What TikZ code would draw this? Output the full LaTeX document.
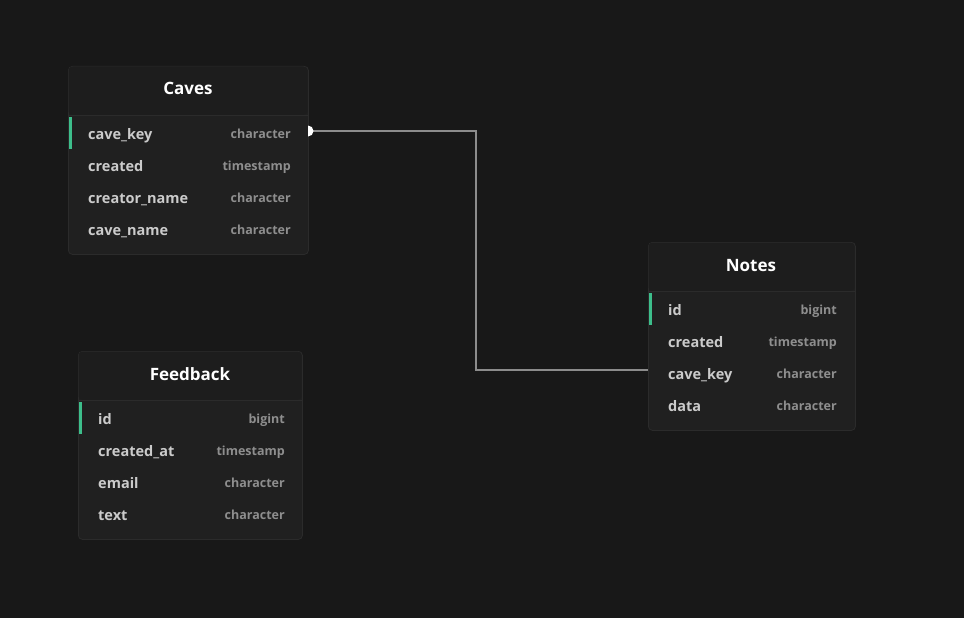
\documentclass[tikz,border=0pt]{standalone}
\usepackage{fontspec}
\setmainfont{Open Sans}
\definecolor{bg}{HTML}{181818}
\definecolor{card}{HTML}{202020}
\definecolor{cardhead}{HTML}{1D1D1D}
\definecolor{cardline}{HTML}{2B2B2B}
\definecolor{fieldc}{HTML}{CBCBCB}
\definecolor{typec}{HTML}{8E8E8E}
\definecolor{keyc}{HTML}{3DBE8B}
\definecolor{linkc}{HTML}{8C8C8C}
\tikzset{
  card/.style={draw=cardline, line width=0.8pt, fill=card, rounded corners=4pt, inner sep=0pt, anchor=north west},
  ttl/.style={text=white, font=\fontsize{17}{19}\selectfont\bfseries, anchor=base, inner sep=0pt},
  fld/.style={text=fieldc, font=\fontsize{14.5}{16}\selectfont\bfseries, anchor=base west, inner sep=0pt},
  typ/.style={text=typec, font=\fontsize{12.5}{14}\selectfont\bfseries, anchor=base east, inner sep=0pt},
  keybar/.style={fill=keyc, draw=none},
  sep/.style={draw=cardline, line width=0.8pt},
  link/.style={draw=linkc, line width=2.6pt, line join=miter},
}
\begin{document}
\begin{tikzpicture}[x=1pt,y=-1pt]
\fill[bg] (0,0) rectangle (964,618);
\useasboundingbox (0,0) rectangle (964,618);

% ---------- Caves ----------
\node[card, minimum width=240pt, minimum height=188pt] (caves) at (68,66) {};
\fill[cardhead, rounded corners=4pt] (68.5,66.5) rectangle (307.5,115);
\draw[sep] (68,115) -- (308,115);
\node[ttl] (cavest) at (188,95) {Caves};
\fill[keybar] (69,117) rectangle (72,149);
\node[fld] (c1) at (88,139) {cave\_key};
\node[typ] (c1t) at (291,138) {character};
\node[fld] (c2) at (88,171) {created};
\node[typ] (c2t) at (291,170) {timestamp};
\node[fld] (c3) at (88,203) {creator\_name};
\node[typ] (c3t) at (291,202) {character};
\node[fld] (c4) at (88,235) {cave\_name};
\node[typ] (c4t) at (291,234) {character};

% ---------- Notes ----------
\node[card, minimum width=207pt, minimum height=188pt] (notes) at (648,242) {};
\fill[cardhead, rounded corners=4pt] (648.5,242.5) rectangle (854.5,291);
\draw[sep] (648,291) -- (855,291);
\node[ttl] (notest) at (751,271) {Notes};
\fill[keybar] (649,293) rectangle (652,325);
\node[fld] (n1) at (668,315) {id};
\node[typ] (n1t) at (837,314) {bigint};
\node[fld] (n2) at (668,347) {created};
\node[typ] (n2t) at (837,346) {timestamp};
\node[fld] (n3) at (668,379) {cave\_key};
\node[typ] (n3t) at (837,378) {character};
\node[fld] (n4) at (668,411) {data};
\node[typ] (n4t) at (837,410) {character};

% ---------- Feedback ----------
\node[card, minimum width=224pt, minimum height=188pt] (fb) at (78,351) {};
\fill[cardhead, rounded corners=4pt] (78.5,351.5) rectangle (301.5,400);
\draw[sep] (78,400) -- (302,400);
\node[ttl] (fbt) at (190,380) {Feedback};
\fill[keybar] (79,402) rectangle (82,434);
\node[fld] (f1) at (98,424) {id};
\node[typ] (f1t) at (285,423) {bigint};
\node[fld] (f2) at (98,456) {created\_at};
\node[typ] (f2t) at (285,455) {timestamp};
\node[fld] (f3) at (98,488) {email};
\node[typ] (f3t) at (285,487) {character};
\node[fld] (f4) at (98,520) {text};
\node[typ] (f4t) at (285,519) {character};

% ---------- connector ----------
\coordinate (src) at (308,131);
\coordinate (dst) at (648,370);
\draw[link] (src) -- (476,131) -- (476,370) -- (dst);
\begin{scope}
  \clip (308,120) rectangle (320,142);
  \fill[white] (src) circle[radius=5.5];
\end{scope}
\end{tikzpicture}
\end{document}
